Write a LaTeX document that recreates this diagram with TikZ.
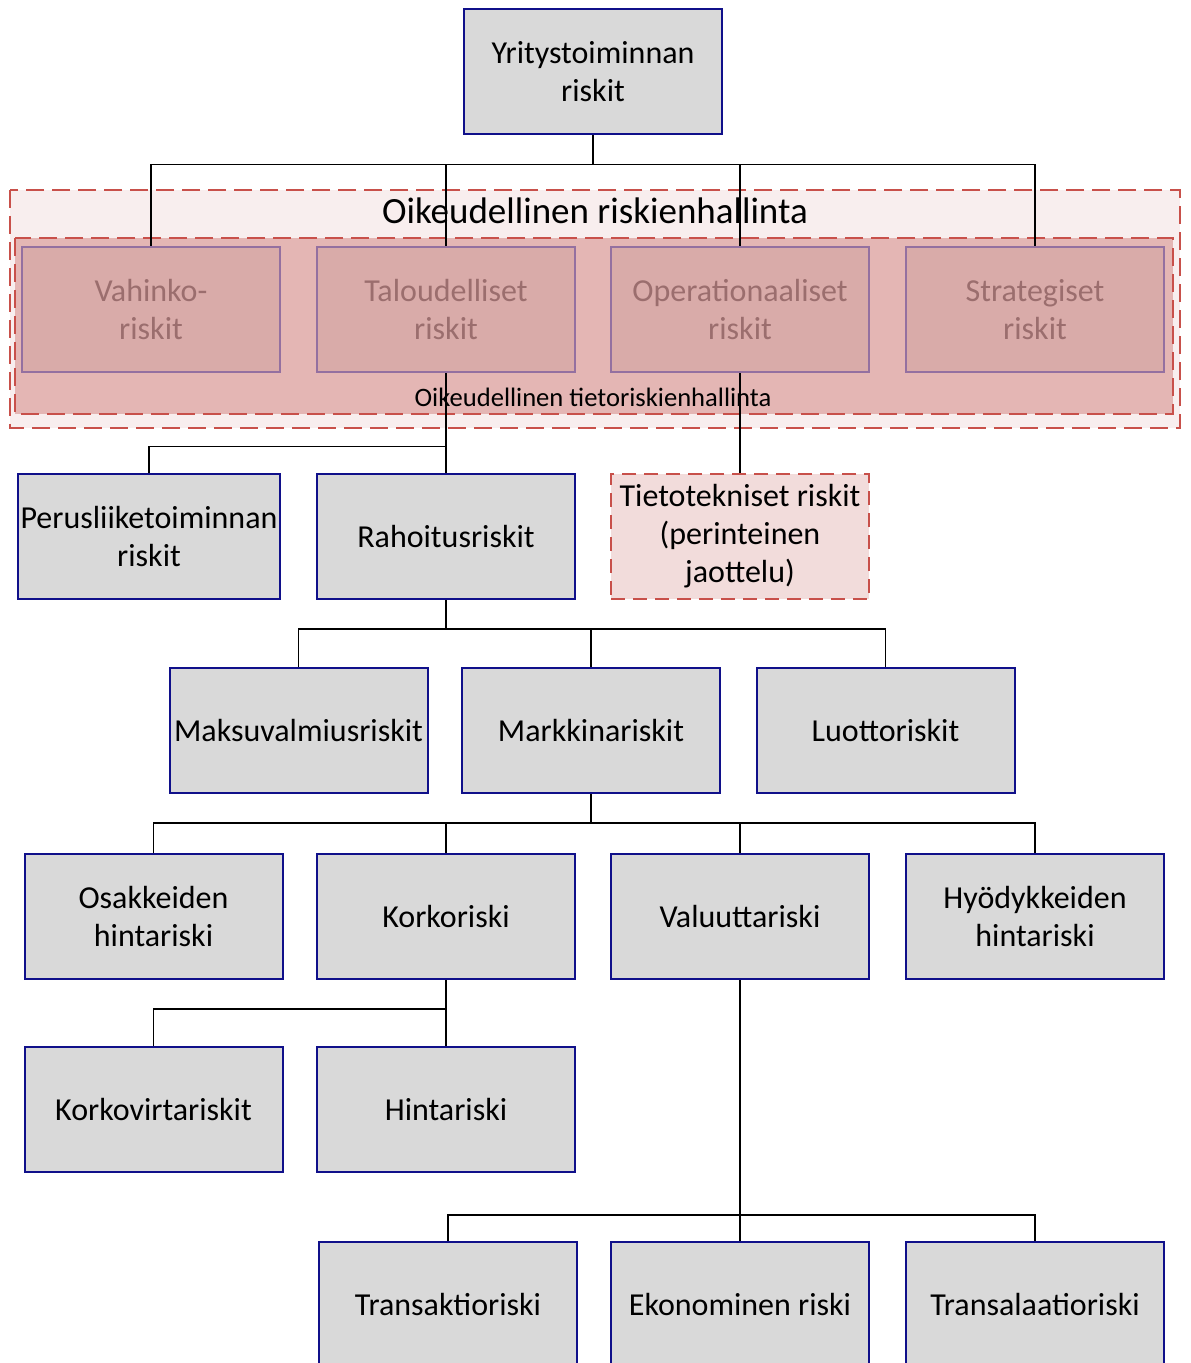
\documentclass[tikz,border=0pt]{standalone}
\usepackage{fontspec}
\setmainfont{Carlito}
\usetikzlibrary{positioning}
\definecolor{boxgrey}{HTML}{D9D9D9}
\definecolor{boxblue}{HTML}{10108A}
\definecolor{legalred}{HTML}{C8504A}
\definecolor{legalpale}{HTML}{F8EEEE}
\definecolor{legalrose}{HTML}{E4B6B4}
\definecolor{dimfill}{HTML}{D9ABA9}
\definecolor{dimline}{HTML}{9470A0}
\definecolor{dimtext}{HTML}{9B6E6E}
\definecolor{itfill}{HTML}{F2DCDB}

\tikzset{
  riskbox/.style={draw=boxblue, line width=1pt, fill=boxgrey, minimum width=129pt,
    minimum height=62.5pt, align=center, inner sep=1pt, font=\fontsize{16}{19}\selectfont},
  dimbox/.style={riskbox, draw=dimline, fill=dimfill, text=dimtext},
  itbox/.style={riskbox, draw=legalred, fill=itfill, dash pattern=on 7pt off 4pt},
  region/.style={draw=legalred, line width=1pt, dash pattern=on 9pt off 4pt},
  bus/.style={draw=black, line width=0.6pt}
}

\begin{document}
\begin{tikzpicture}[x=0.5pt,y=-0.5pt]
  \clip (0,0) rectangle (1190,1363);
  % legal risk management areas
  \filldraw[region, fill=legalpale] (10,190) rectangle (1180,428);
  \filldraw[region, fill=legalrose] (15,238) rectangle (1173,414);
  \node[font=\fontsize{18.5}{22}\selectfont] (legal) at (595,211) {Oikeudellinen riskienhallinta};
  \node[font=\fontsize{13.3}{16}\selectfont] (legalit) at (593,397) {Oikeudellinen tietoriskienhallinta};

  \node[riskbox] (yritys) at (593,72) {Yritystoiminnan\\riskit};
  \node[dimbox] (vahinko) at (151,310) {Vahinko-\\riskit};
  \node[dimbox] (talous) at (446,310) {Taloudelliset\\riskit};
  \node[dimbox] (oper) at (740,310) {Operationaaliset\\riskit};
  \node[dimbox] (strat) at (1035,310) {Strategiset\\riskit};

  \node[riskbox, minimum width=131pt] (perus) at (149,536.5) {Perusliiketoiminnan\\riskit};
  \node[riskbox] (rahoitus) at (446,536.5) {Rahoitusriskit};
  \node[itbox] (tieto) at (740,536.5) {Tietotekniset riskit\\(perinteinen\\jaottelu)};

  \node[riskbox] (maksu) at (298.5,730.5) {Maksuvalmiusriskit};
  \node[riskbox] (markkina) at (591,730.5) {Markkinariskit};
  \node[riskbox] (luotto) at (885.5,730.5) {Luottoriskit};

  \node[riskbox] (osakkeet) at (153.5,916.5) {Osakkeiden\\hintariski};
  \node[riskbox] (korko) at (446,916.5) {Korkoriski};
  \node[riskbox] (valuutta) at (740,916.5) {Valuuttariski};
  \node[riskbox] (hyodyke) at (1035,916.5) {Hyödykkeiden\\hintariski};

  \node[riskbox] (korkovirta) at (153.5,1109.5) {Korkovirtariskit};
  \node[riskbox] (hinta) at (446,1109.5) {Hintariski};

  \node[riskbox] (transaktio) at (448,1304.5) {Transaktioriski};
  \node[riskbox] (ekonom) at (740,1304.5) {Ekonominen riski};
  \node[riskbox] (transalaatio) at (1035,1304.5) {Transalaatioriski};

  % connectors
  \foreach \c in {vahinko,talous,oper,strat}
    \draw[bus] (yritys.south) -- ++(0,29) -| (\c.north);
  \draw[bus] (talous.south) -- ++(0,73) -| (perus.north);
  \draw[bus] (talous.south) -- (rahoitus.north);
  \draw[bus] (oper.south) -- (tieto.north);
  \foreach \c in {maksu,markkina,luotto}
    \draw[bus] (rahoitus.south) -- ++(0,29) -| (\c.north);
  \foreach \c in {osakkeet,korko,valuutta,hyodyke}
    \draw[bus] (markkina.south) -- ++(0,29) -| (\c.north);
  \foreach \c in {korkovirta,hinta}
    \draw[bus] (korko.south) -- ++(0,29) -| (\c.north);
  \foreach \c in {transaktio,ekonom,transalaatio}
    \draw[bus] (valuutta.south) -- ++(0,235) -| (\c.north);
\end{tikzpicture}
\end{document}
